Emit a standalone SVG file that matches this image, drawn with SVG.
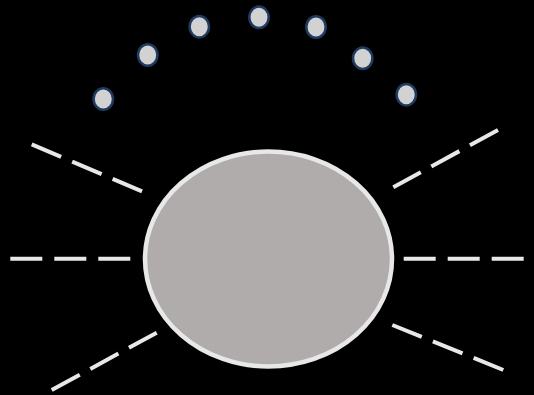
<svg xmlns="http://www.w3.org/2000/svg" width="534" height="395" viewBox="0 0 534 395">
<style>
.dot{fill:#d3d2d3;stroke:#1f3a5f;stroke-width:2.5}
.ray{stroke:#e8e8e8;stroke-width:4;stroke-dasharray:32 12;fill:none}
.core{fill:#b0acab;stroke:#e8e8e8;stroke-width:4.5}
</style>
<rect width="534" height="395" fill="#000"/>
<g id="connectors">
<line class="ray" x1="31.7" y1="144.3" x2="142.7" y2="191.7"/>
<line class="ray" x1="10.3" y1="258.7" x2="130.3" y2="258.7"/>
<line class="ray" x1="51.7" y1="390" x2="156.7" y2="332.7"/>
<line class="ray" x1="498" y1="130" x2="393.3" y2="187.3"/>
<line class="ray" x1="523.7" y1="258.7" x2="403.7" y2="258.7"/>
<line class="ray" x1="503.3" y1="370" x2="392.3" y2="325"/>
</g>
<g id="core"><ellipse class="core" cx="268.5" cy="259" rx="123.5" ry="107.5"/></g>
<g id="dot1"><ellipse class="dot" cx="103.3" cy="99" rx="9.7" ry="10.7"/></g>
<g id="dot2"><ellipse class="dot" cx="147.7" cy="55" rx="9.7" ry="10.7"/></g>
<g id="dot3"><ellipse class="dot" cx="199.3" cy="26.7" rx="9.7" ry="10.7"/></g>
<g id="dot4"><ellipse class="dot" cx="259" cy="17.3" rx="9.7" ry="10.7"/></g>
<g id="dot5"><ellipse class="dot" cx="316" cy="27" rx="9.7" ry="10.7"/></g>
<g id="dot6"><ellipse class="dot" cx="362.7" cy="58.3" rx="9.7" ry="10.7"/></g>
<g id="dot7"><ellipse class="dot" cx="406.3" cy="94.7" rx="9.7" ry="10.7"/></g>
</svg>
